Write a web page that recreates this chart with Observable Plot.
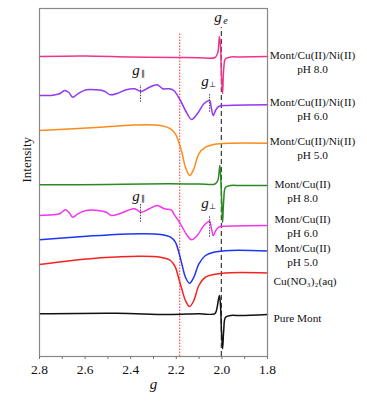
<!DOCTYPE html>
<html><head><meta charset="utf-8">
<script src="https://cdn.jsdelivr.net/npm/d3@7"></script>
<script src="https://cdn.jsdelivr.net/npm/@observablehq/plot@0.6"></script>
<style>body{margin:0;background:#fff} svg, svg text{font-family:"Liberation Serif","Times New Roman",serif !important}</style>
</head><body><div id="chart"></div>
<script>
// x axis ticks (g values)
const xTicks = [2.8, 2.6, 2.4, 2.2, 2.0, 1.8];
const xMinorTicks = [2.7, 2.5, 2.3, 2.1, 1.9];
// reference lines
const refDotted = [2.185];
const refDashed = [2.0023];

// spectra: [g, intensity (a.u., stacked)]
const niPh8 = [[2.80,300],[2.60,300.5],[2.40,299.5],[2.20,299],[2.10,298.8],[2.03,299],[2.018,304],[2.011,320],[2.006,311],[2.002,281],[1.997,263],[1.992,287.7],[1.984,297.7],[1.962,299.5],[1.918,299.5],[1.80,300]];
const niPh6 = [[2.800,261],[2.742,261.3],[2.712,262.7],[2.690,266],[2.671,264],[2.654,259.3],[2.632,262.7],[2.595,266.7],[2.551,266.7],[2.515,265.3],[2.490,261.7],[2.457,263.3],[2.420,266.7],[2.383,267.7],[2.354,265],[2.318,269.3],[2.284,271.7],[2.259,267.7],[2.230,267.7],[2.211,266],[2.182,256],[2.152,242.7],[2.133,237],[2.108,242.7],[2.079,252.7],[2.054,256],[2.047,249.3],[2.038,241],[2.028,246],[2.014,250],[1.977,251],[1.80,251.7]];
const niPh5 = [[2.80,226],[2.532,229.3],[2.388,231.5],[2.269,231],[2.225,227.7],[2.204,222.7],[2.189,214.3],[2.174,202.7],[2.160,189.3],[2.141,181],[2.123,187.7],[2.101,202.7],[2.072,209.3],[2.036,212],[1.962,213.3],[1.80,213.3]];
const cuPh8 = [[2.80,171.7],[2.50,172],[2.239,172.7],[2.10,172.5],[2.03,172.5],[2.018,176],[2.009,191],[2.005,179.3],[2.000,149.3],[1.997,134],[1.992,156],[1.984,169.3],[1.962,171],[1.918,171],[1.80,171]];
const cuPh6 = [[2.800,141],[2.742,141.7],[2.712,142.7],[2.686,146.7],[2.668,143.3],[2.654,139.3],[2.632,142.7],[2.595,146],[2.544,146],[2.507,144.3],[2.486,141],[2.449,142.7],[2.413,146],[2.383,147.7],[2.354,144.3],[2.318,147.7],[2.284,151],[2.252,147.7],[2.222,146.7],[2.211,142.7],[2.182,132.7],[2.152,121],[2.133,116.7],[2.108,121],[2.079,131],[2.054,135.3],[2.047,129.3],[2.038,121],[2.028,125.3],[2.014,129.3],[1.977,130.3],[1.80,131]];
const cuPh5 = [[2.80,116.7],[2.654,119.3],[2.500,121.5],[2.357,122.7],[2.269,122],[2.225,119.3],[2.204,114.3],[2.189,104.3],[2.174,91],[2.160,79.3],[2.142,73.3],[2.123,79.3],[2.101,92.7],[2.072,101],[2.036,104.3],[1.962,106],[1.80,105.5]];
const cuAq = [[2.80,92],[2.532,98.7],[2.357,100.3],[2.269,99.3],[2.225,96],[2.204,89.3],[2.189,77.7],[2.174,66],[2.160,56],[2.142,50],[2.123,56],[2.101,71],[2.072,79.3],[2.036,82],[1.962,83.7],[1.80,83.5]];
const pureMont = [[2.80,42.7],[2.459,43.3],[2.240,42],[2.10,42.7],[2.032,42.7],[2.024,46],[2.011,61],[2.006,51],[2.002,26],[1.997,7.7],[1.992,26],[1.984,39.3],[1.962,41],[1.918,41],[1.80,42]];

const seriesLabels = ["Mont/Cu(II)/Ni(II)\npH 8.0","Mont/Cu(II)/Ni(II)\npH 6.0","Mont/Cu(II)/Ni(II)\npH 5.0","Mont/Cu(II)\npH 8.0","Mont/Cu(II)\npH 6.0","Mont/Cu(II)\npH 5.0","Cu(NO₃)₂(aq)","Pure Mont"];

// annotations: g-parallel and g-perpendicular positions
const annG = [2.357, 2.054];

// ---- styling / layout (not data) ----
const FONT = "'Liberation Serif','Times New Roman',serif";
const spectra = [niPh8, niPh6, niPh5, cuPh8, cuPh6, cuPh5, cuAq, pureMont];
const colors = ["#f0338a","#9238f0","#ff8a1a","#2a8a22","#f433f0","#1f35f5","#f52222","#111111"];
const labelDx = [45,45,45,35,35,35,6,6];
const labelDy = [5,4,4,5,0,3.5,7,3];
const labelAnchor = ["middle","middle","middle","middle","middle","middle","start","start"];

const rows = spectra.flatMap((pts,k)=>pts.map(([g,i])=>({g,i,k})));

const marks = [
  Plot.ruleX(refDotted, {y1: 0, y2: 324, stroke: "#ff2a2a", strokeWidth: 1, strokeDasharray: "1.5,1.5"}),
  Plot.ruleX(refDashed, {y1: 0, y2: 329, stroke: "#444", strokeWidth: 1.3, strokeDasharray: "5,3"}),
];
spectra.forEach((pts,k)=>{
  marks.push(Plot.line(rows.filter(r=>r.k===k), {x:"g", y:"i", stroke: colors[k], strokeWidth: 1.5, curve: "catmull-rom"}));
});
spectra.forEach((pts,k)=>{
  const last = pts[pts.length-1];
  marks.push(Plot.text([seriesLabels[k]], {x: last[0], y: last[1], text: d=>d, dx: labelDx[k], dy: labelDy[k], textAnchor: labelAnchor[k], lineAnchor: "middle", fontSize: 11.3, lineHeight: 1.25, fill: "#111", fontFamily: FONT}));
});
// g parallel / g perpendicular annotations on pH 6.0 traces
const ann = [
  {g: annG[0], y1: 254.3, y2: 271, yl: 286, sub: "∥"},
  {g: annG[1], y1: 244.3, y2: 262.7, yl: 275, sub: "⊥"},
  {g: annG[0], y1: 134.3, y2: 152.7, yl: 160.7, sub: "∥"},
  {g: annG[1], y1: 119.3, y2: 141, yl: 153, sub: "⊥"},
];
marks.push(Plot.ruleX(ann, {x: "g", y1: "y1", y2: "y2", stroke: "#333", strokeWidth: 0.9, strokeDasharray: "1.5,1.2"}));
marks.push(Plot.text(ann, {x: "g", y: "yl", text: () => "g", dx: -4.5, fontStyle: "italic", fontSize: 15, lineAnchor: "middle", fill: "#111", fontFamily: FONT}));
marks.push(Plot.text(ann, {x: "g", y: "yl", text: "sub", dx: 2.5, dy: 3, fontSize: 8, lineAnchor: "middle", fill: "#111", fontFamily: FONT}));
// g_e label
marks.push(Plot.text(refDashed, {x: d=>d, y: 339, text: () => "g", dx: -3.5, fontStyle: "italic", fontSize: 15, lineAnchor: "middle", fill: "#111", fontFamily: FONT}));
marks.push(Plot.text(refDashed, {x: d=>d, y: 339, text: () => "e", dx: 4, dy: 3, fontStyle: "italic", fontSize: 10, lineAnchor: "middle", fill: "#111", fontFamily: FONT}));
// axes
marks.push(Plot.frame({stroke: "#888", strokeWidth: 1.2}));
marks.push(Plot.axisX({ticks: xTicks, tickFormat: d3.format(".1f"), tickSize: 3, tickPadding: 5, fontSize: 13.5, label: null, stroke: "#777", fontFamily: FONT}));
marks.push(Plot.axisX({ticks: xMinorTicks, tickFormat: () => "", tickSize: 3, label: null, stroke: "#777"}));
marks.push(Plot.text(["g"], {frameAnchor: "bottom", dy: 27.7, fontStyle: "italic", fontSize: 15, lineAnchor: "middle", fill: "#111", fontFamily: FONT}));
marks.push(Plot.text(["Intensity"], {frameAnchor: "left", rotate: -90, dx: -12.3, fontSize: 13, lineAnchor: "middle", fill: "#111", fontFamily: FONT}));

const chart = Plot.plot({
  width: 367, height: 402,
  marginLeft: 39, marginRight: 100, marginTop: 8, marginBottom: 46,
  x: {domain: [2.8, 1.8]},
  y: {domain: [0, 348], axis: null},
  style: {fontFamily: FONT, color: "#111", background: "#fff"},
  marks
});
chart.style.fontFamily = FONT;
document.getElementById("chart").appendChild(chart);
</script>
</body></html>
